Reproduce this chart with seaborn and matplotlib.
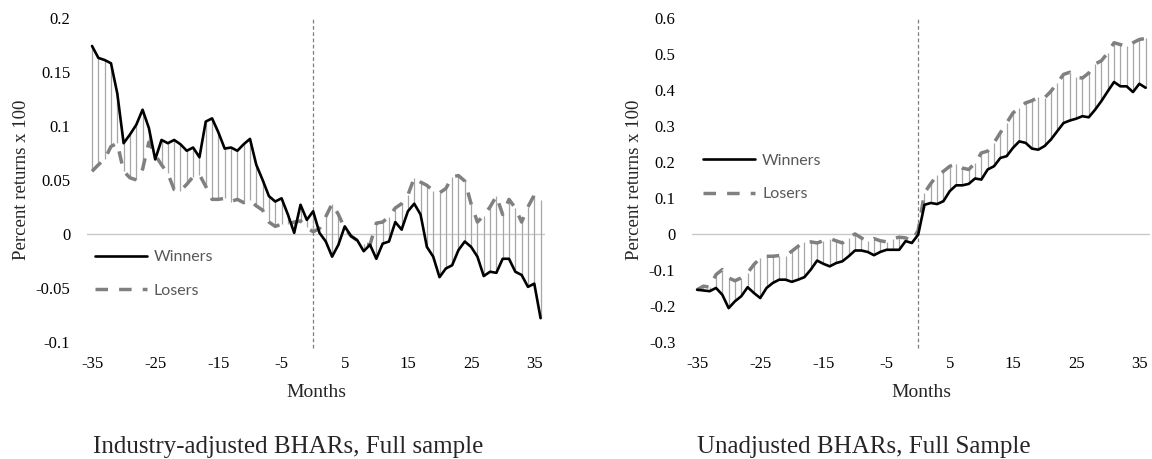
import matplotlib
matplotlib.use('Agg')
import matplotlib.pyplot as plt
import numpy as np
import pandas as pd
import seaborn as sns
from matplotlib.ticker import FuncFormatter

# months relative to event
months = list(range(-35, 37))

# Industry-adjusted BHARs
ind_winners = [0.174, 0.163, 0.161, 0.158, 0.130, 0.084, 0.092, 0.101, 0.115, 0.098,
               0.069, 0.087, 0.084, 0.087, 0.083, 0.077, 0.080, 0.071, 0.104, 0.107,
               0.094, 0.079, 0.080, 0.077, 0.083, 0.088, 0.064, 0.050, 0.035, 0.030,
               0.033, 0.018, 0.001, 0.027, 0.013, 0.021,
               0.001, -0.007, -0.021, -0.010, 0.007, -0.002, -0.006, -0.016, -0.010, -0.023,
               -0.009, -0.007, 0.011, 0.004, 0.021, 0.028, 0.018, -0.012, -0.021, -0.040,
               -0.032, -0.029, -0.015, -0.007, -0.012, -0.021, -0.039, -0.035, -0.036, -0.023,
               -0.023, -0.035, -0.038, -0.049, -0.046, -0.078]
ind_losers = [0.058, 0.064, 0.069, 0.081, 0.084, 0.058, 0.052, 0.050, 0.060, 0.085,
              0.073, 0.064, 0.056, 0.041, 0.040, 0.046, 0.053, 0.055, 0.044, 0.032,
              0.032, 0.033, 0.030, 0.032, 0.029, 0.031, 0.026, 0.022, 0.011, 0.007,
              0.009, 0.009, 0.011, 0.012, 0.006, 0.002,
              0.005, 0.016, 0.028, 0.018, 0.005, -0.002, -0.006, -0.009, -0.010, 0.010,
              0.011, 0.016, 0.024, 0.028, 0.036, 0.052, 0.048, 0.045, 0.040, 0.038,
              0.042, 0.053, 0.054, 0.049, 0.028, 0.011, 0.017, 0.025, 0.035, 0.018,
              0.032, 0.024, 0.011, 0.025, 0.036, 0.031]

# Unadjusted BHARs
raw_winners = [-0.155, -0.157, -0.159, -0.150, -0.169, -0.206, -0.187, -0.173, -0.148, -0.164,
               -0.178, -0.150, -0.136, -0.127, -0.127, -0.133, -0.127, -0.120, -0.099, -0.074,
               -0.083, -0.090, -0.081, -0.076, -0.062, -0.046, -0.046, -0.050, -0.059, -0.050,
               -0.044, -0.044, -0.044, -0.020, -0.025, -0.002,
               0.081, 0.086, 0.083, 0.091, 0.119, 0.135, 0.135, 0.139, 0.154, 0.151,
               0.179, 0.188, 0.211, 0.216, 0.239, 0.257, 0.253, 0.237, 0.234, 0.244,
               0.262, 0.285, 0.308, 0.315, 0.320, 0.327, 0.324, 0.345, 0.369, 0.396,
               0.422, 0.410, 0.410, 0.394, 0.417, 0.406]
raw_losers = [-0.155, -0.145, -0.148, -0.113, -0.099, -0.122, -0.130, -0.122, -0.108, -0.085,
              -0.067, -0.062, -0.062, -0.060, -0.060, -0.048, -0.034, -0.023, -0.022, -0.025,
              -0.019, -0.013, -0.019, -0.025, -0.011, 0.000, -0.011, -0.020, -0.013, -0.019,
              -0.022, -0.013, -0.009, -0.011, -0.020, 0.010,
              0.114, 0.140, 0.163, 0.174, 0.188, 0.194, 0.183, 0.179, 0.197, 0.225,
              0.230, 0.253, 0.281, 0.308, 0.336, 0.350, 0.364, 0.370, 0.380, 0.378,
              0.396, 0.419, 0.443, 0.449, 0.435, 0.433, 0.447, 0.472, 0.481, 0.503,
              0.531, 0.526, 0.521, 0.531, 0.540, 0.543]

ind_ticks = [0.2, 0.15, 0.1, 0.05, 0, -0.05, -0.1]
raw_ticks = [0.6, 0.5, 0.4, 0.3, 0.2, 0.1, 0, -0.1, -0.2, -0.3]
x_ticks = [-35, -25, -15, -5, 5, 15, 25, 35]

sns.set_style('white')
plt.rcParams['font.family'] = ['Liberation Serif', 'DejaVu Serif']
plt.rcParams['axes.unicode_minus'] = False


def draw_panel(ax, winners, losers, yticks):
    df = pd.DataFrame({'Month': months, 'Winners': winners, 'Losers': losers})
    # high-low lines between the two series
    ax.vlines(df['Month'], df['Winners'], df['Losers'], color='#a6a6a6', lw=0.9, zorder=1)
    ax.axhline(0, color='#c8c8c8', lw=1, zorder=0)
    ax.axvline(0, ymax=1.0, ymin=-0.02, color='#7f7f7f', lw=0.9, ls=(0, (3, 2)),
               zorder=0, clip_on=False)
    sns.lineplot(data=df, x='Month', y='Winners', ax=ax, color='black', lw=1.9,
                 label='Winners', zorder=3)
    sns.lineplot(data=df, x='Month', y='Losers', ax=ax, color='#808080', lw=2.5,
                 label='Losers', zorder=2)
    ax.lines[-1].set_dashes((3.6, 3.2))

    ax.set_xlim(-35.8, 36.7)
    ax.set_ylim(min(yticks), max(yticks))
    ax.set_xticks(x_ticks)
    ax.set_yticks(yticks)
    ax.yaxis.set_major_formatter(FuncFormatter(lambda v, p: '{:g}'.format(round(v, 3))))
    ax.tick_params(axis='both', length=0, labelsize=12, colors='black')
    ax.tick_params(axis='y', pad=12)
    ax.tick_params(axis='x', pad=10)
    for s in ax.spines.values():
        s.set_visible(False)
    ax.set_xlabel('Months', fontsize=14, labelpad=9)
    ax.set_ylabel('Percent returns x 100', fontsize=13.5, labelpad=4)
    return ax


fig = plt.figure(figsize=(11.52, 4.59), dpi=100)
ax1 = fig.add_axes([0.0755, 0.255, 0.3976, 0.706])
ax2 = fig.add_axes([0.6007, 0.255, 0.3976, 0.706])

draw_panel(ax1, ind_winners, ind_losers, ind_ticks)
draw_panel(ax2, raw_winners, raw_losers, raw_ticks)

fig.text(0.25, 0.013, 'Industry-adjusted BHARs, Full sample', ha='center',
         va='baseline', fontsize=18)
fig.text(0.75, 0.013, 'Unadjusted BHARs, Full Sample', ha='center',
         va='baseline', fontsize=18)

leg_font = {'family': 'Lato', 'size': 11.5}
leg_kw = dict(loc='center left', frameon=False, prop=leg_font, borderpad=0,
              borderaxespad=0, handlelength=3.25, labelspacing=1.2,
              handletextpad=0.45, labelcolor='#595959')
ax1.legend(bbox_to_anchor=(0.017, 0.21), **leg_kw)
ax2.legend(bbox_to_anchor=(0.024, 0.507), **leg_kw)

fig.savefig('out.png', dpi=100)
